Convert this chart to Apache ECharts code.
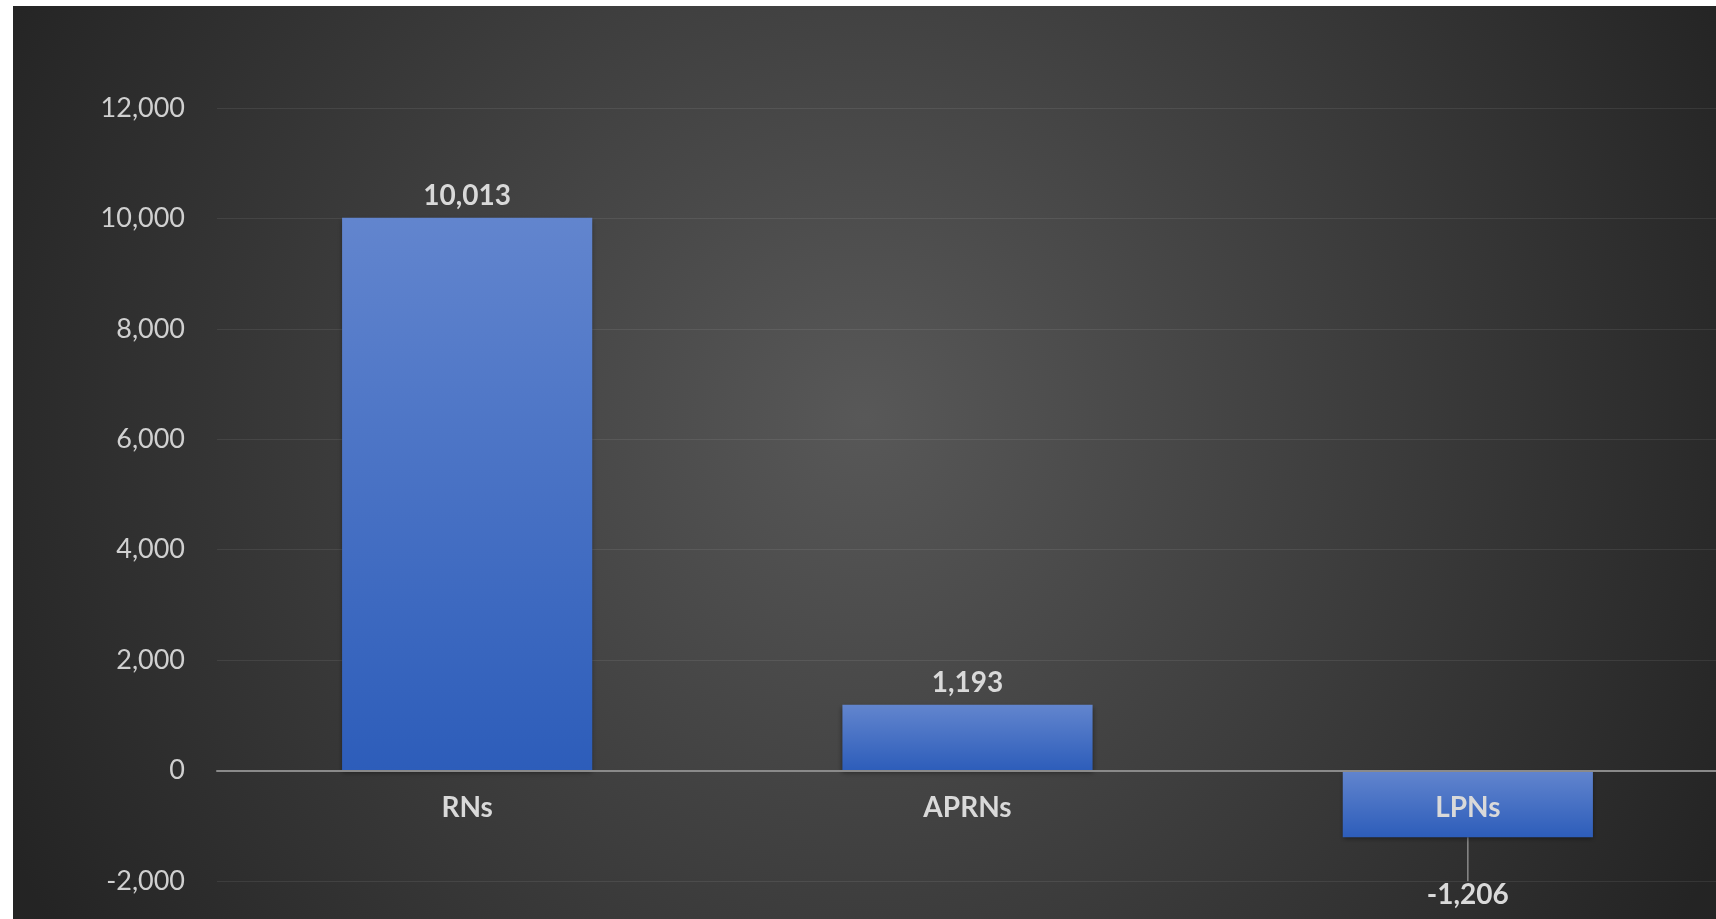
<!DOCTYPE html>
<html lang="en">
<head>
    <meta charset="UTF-8">
    <title>Nurse workforce change</title>
    <script src="https://cdn.jsdelivr.net/npm/echarts@6/dist/echarts.min.js"></script>
    <style>
        html, body { margin: 0; padding: 0; background: #ffffff; }
        #chart { position: absolute; left: 13px; top: 6px; width: 1703px; height: 913px; }
    </style>
</head>
<body>
<div id="chart"></div>
<script type="text/javascript">
    // data
    var categories = ['RNs', 'APRNs', 'LPNs'];
    var changeValues = [10013, 1193, -1206];
    var yTicks = { min: -2000, max: 12000, step: 2000 };

    var fmt = function (v) { return Number(v).toLocaleString('en-US'); };

    var barFill = new echarts.graphic.LinearGradient(0, 0, 0, 1, [
        { offset: 0, color: '#6285ce' },
        { offset: 1, color: '#2d5dba' }
    ]);

    var chart = echarts.init(document.getElementById('chart'));

    var option = {
        backgroundColor: new echarts.graphic.RadialGradient(0.5, 0.45, 1.05, [
            { offset: 0, color: '#585858' },
            { offset: 1, color: '#242424' }
        ]),
        textStyle: { fontFamily: 'Lato' },
        grid: { left: 204, right: -2, top: 102, bottom: 38, outerBoundsMode: 'none' },
        xAxis: {
            type: 'category',
            data: categories,
            z: 10,
            axisTick: { show: false },
            axisLine: { onZero: true, lineStyle: { color: '#8a8a8a', width: 2 } },
            axisLabel: { show: false }
        },
        yAxis: {
            type: 'value',
            min: yTicks.min,
            max: yTicks.max,
            interval: yTicks.step,
            axisLine: { show: false },
            axisTick: { show: false },
            axisLabel: {
                color: '#d0d0d0',
                fontSize: 27,
                margin: 32,
                formatter: fmt
            },
            splitLine: { lineStyle: { color: 'rgba(255,255,255,0.08)', width: 1 } }
        },
        series: [{
            type: 'bar',
            barWidth: '50%',
            z: 2,
            data: changeValues.map(function (v) {
                var item = { value: v };
                if (v < 0) {
                    item.label = { position: 'bottom', distance: 6 };
                    item.labelLine = { show: true };
                }
                return item;
            }),
            itemStyle: {
                color: barFill,
                shadowBlur: 5,
                shadowColor: 'rgba(0,0,0,0.45)',
                shadowOffsetY: 2
            },
            label: {
                show: true,
                position: 'top',
                distance: 9,
                color: '#d9d9d9',
                fontSize: 28,
                fontWeight: 'bold',
                lineHeight: 26,
                formatter: function (p) { return fmt(p.value); }
            },
            labelLayout: function (p) {
                if (changeValues[p.dataIndex] < 0) {
                    return { dy: 39 };
                }
                return {};
            },
            labelLine: {
                show: false,
                lineStyle: { color: '#8a8a8a', width: 1.5 }
            }
        }, {
            // category names sit on the zero line, like the axis labels in the original
            type: 'bar',
            barWidth: '50%',
            barGap: '-100%',
            z: 5,
            silent: true,
            data: categories.map(function () { return 0; }),
            itemStyle: { color: 'rgba(0,0,0,0)' },
            label: {
                show: true,
                position: 'bottom',
                distance: 24,
                color: '#d9d9d9',
                fontSize: 28,
                fontWeight: 'bold',
                lineHeight: 26,
                formatter: '{b}'
            }
        }]
    };

    chart.setOption(option);
</script>
</body>
</html>
